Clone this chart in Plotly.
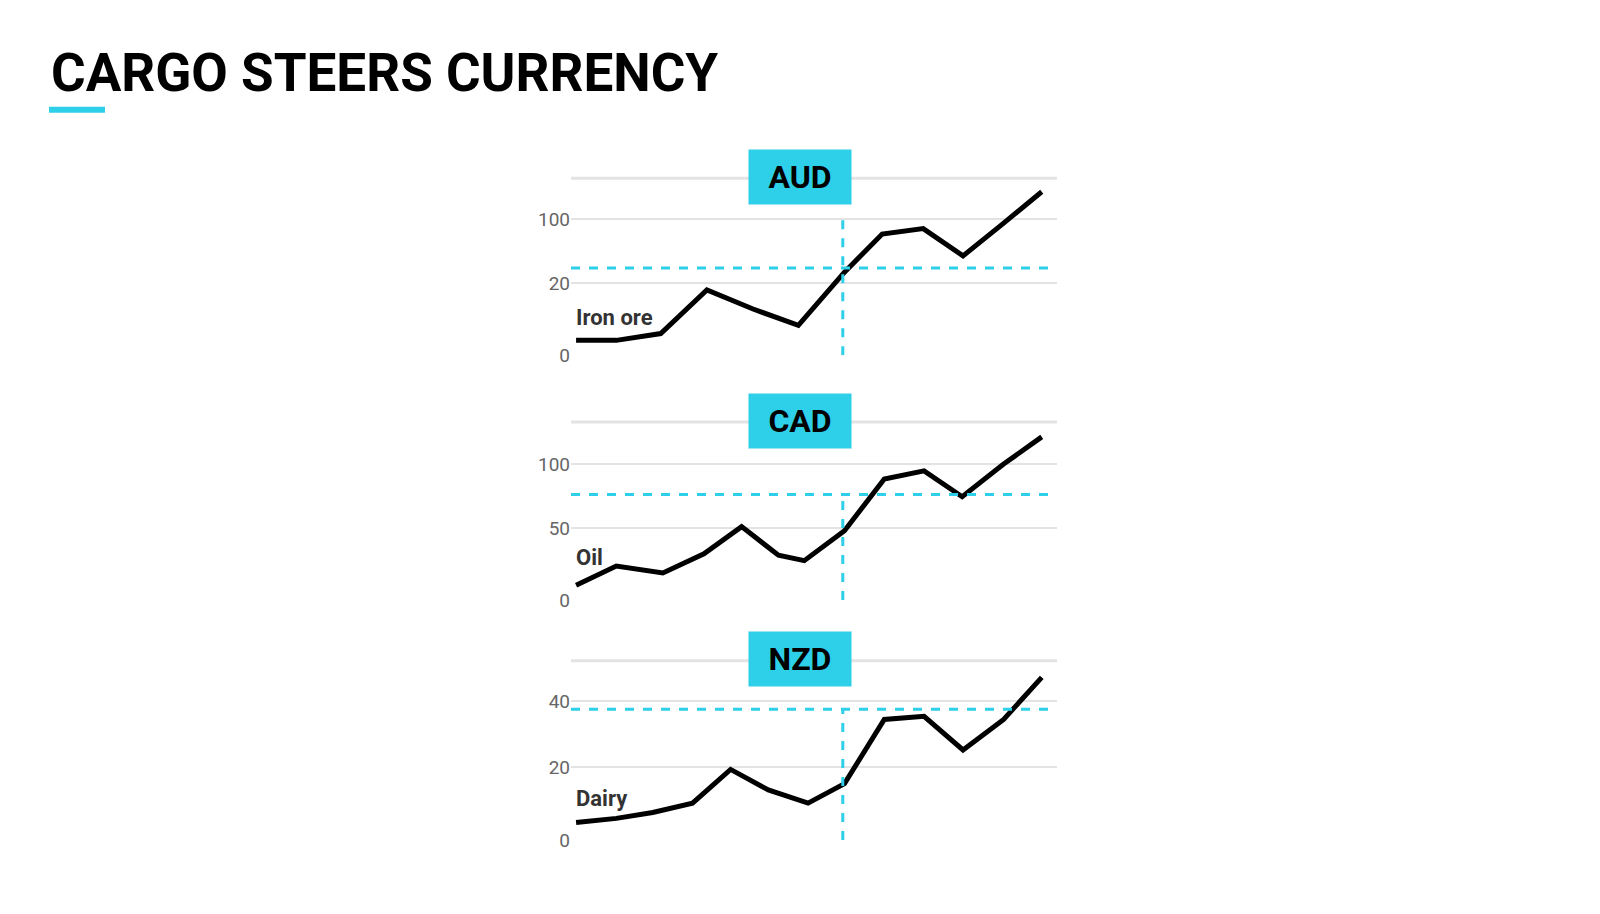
import plotly.graph_objects as go

# panel data (index positions along x)
aud_x = [0, 0.95, 2.0, 3.09, 4.18, 5.25, 6.34, 7.23, 8.2, 9.14, 10.1, 11.0]
aud_y = [11, 11, 16, 48, 34, 22, 61, 89, 93, 73, 97, 120]
aud_ticks = [0, 53, 100]
aud_ticktext = ["0", "20", "100"]

cad_x = [0, 0.95, 2.05, 3.02, 3.91, 4.78, 5.39, 6.34, 7.28, 8.22, 9.12, 10.1, 11.0]
cad_y = [11, 25, 20, 34, 54, 33, 29, 51, 89, 95, 76, 100, 120]
cad_ticks = [0, 53, 100]
cad_ticktext = ["0", "50", "100"]

nzd_x = [0, 0.95, 1.81, 2.75, 3.65, 4.54, 5.48, 6.34, 7.28, 8.22, 9.14, 10.1, 11.0]
nzd_y = [5, 6.2, 7.9, 10.6, 20.3, 14.4, 10.6, 16.2, 34.7, 35.6, 25.9, 34.7, 46.8]
nzd_ticks = [0, 21, 40]
nzd_ticktext = ["0", "20", "40"]

H = 914
panels = [
    # name, label, x, y, ticks, ticktext, top, hline, vtop, domain(px bottom, top), label_y
    ("AUD", "Iron ore", aud_x, aud_y, aud_ticks, aud_ticktext, 131, 64, 100, (352, 171), 28),
    ("CAD", "Oil", cad_x, cad_y, cad_ticks, cad_ticktext, 132, 77.6, 77.6, (600, 418), 31),
    ("NZD", "Dairy", nzd_x, nzd_y, nzd_ticks, nzd_ticktext, 52, 37.6, 37.6, (843, 660), 12),
]

CYAN = "#2ecfe8"
fig = go.Figure()
shapes, annotations = [], []
xr = [-0.12, 11.36]
vx = 6.3

for i, (name, label, xs, ys, tv, tt, top, hl, vtop, dpx, ly) in enumerate(panels, start=1):
    sfx = "" if i == 1 else str(i)
    dom = [1 - dpx[0] / H, 1 - dpx[1] / H]
    fig.add_trace(go.Scatter(x=xs, y=ys, mode="lines", line=dict(color="black", width=5),
                             xaxis="x" + sfx, yaxis="y" + sfx, showlegend=False, hoverinfo="skip"))
    fig.update_layout(**{
        "xaxis" + sfx: dict(domain=[563 / 1600, 1049 / 1600], range=xr, visible=False,
                            anchor="y" + sfx),
        "yaxis" + sfx: dict(domain=dom, range=[0, top], tickvals=tv, ticktext=tt,
                            showgrid=True, gridcolor="#e3e3e6", gridwidth=1.5, zeroline=False,
                            showline=False, ticks="", tickfont=dict(size=19, color="#666"),
                            anchor="x" + sfx, fixedrange=True),
    })
    xref, yref = "x" + sfx, "y" + sfx
    shapes.append(dict(type="line", xref=xref, yref=yref, x0=xr[0], x1=xr[1], y0=top, y1=top,
                       line=dict(color="#e3e3e6", width=6)))
    shapes.append(dict(type="line", xref=xref, yref=yref, x0=xr[0], x1=xr[1], y0=hl, y1=hl,
                       line=dict(color=CYAN, width=3, dash="dash")))
    shapes.append(dict(type="line", xref=xref, yref=yref, x0=vx, x1=vx, y0=0, y1=vtop,
                       line=dict(color=CYAN, width=3, dash="dash")))
    annotations.append(dict(xref=xref, yref=yref, x=5.3, y=top, text="<b>%s</b>" % name,
                            showarrow=False, bgcolor=CYAN, width=100, height=52,
                            font=dict(size=32, color="black", family="Roboto")))
    annotations.append(dict(xref=xref, yref=yref, x=-0.05, y=ly, text="<b>%s</b>" % label,
                            showarrow=False, xanchor="left", yanchor="middle",
                            font=dict(size=22, color="#333")))

annotations.append(dict(xref="paper", yref="paper", x=41 / 1600, y=1 - 66 / H,
                        text="<b>CARGO STEERS CURRENCY</b>", showarrow=False, xanchor="left",
                        yanchor="middle", font=dict(size=53, color="black", family="Roboto")))
shapes.append(dict(type="line", xref="paper", yref="paper", x0=41 / 1600, x1=97 / 1600,
                   y0=1 - 103 / H, y1=1 - 103 / H, line=dict(color=CYAN, width=6)))

fig.update_layout(width=1600, height=H, margin=dict(l=0, r=0, t=0, b=0),
                  plot_bgcolor="white", paper_bgcolor="white",
                  font=dict(family="Roboto"), shapes=shapes, annotations=annotations)

fig.write_html("out.html")
